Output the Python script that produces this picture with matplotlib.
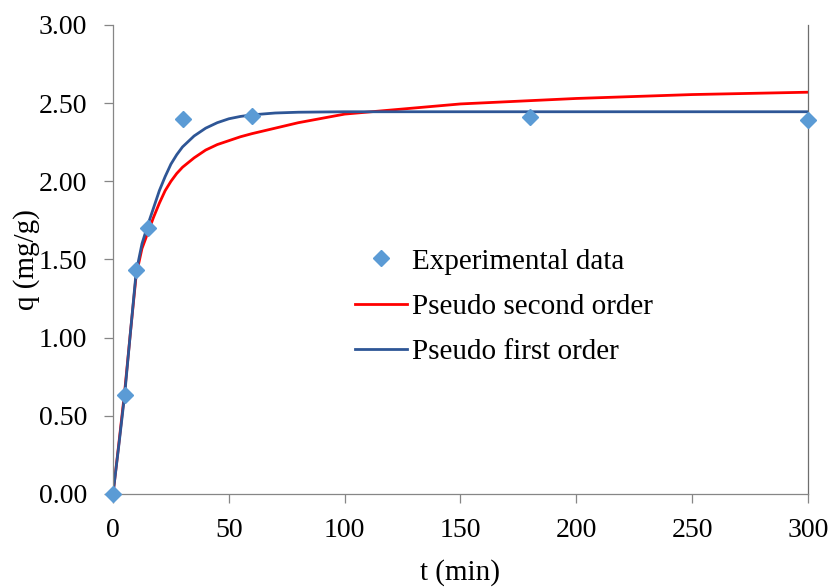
import matplotlib
matplotlib.use('Agg')
import matplotlib.pyplot as plt
from matplotlib.ticker import FormatStrFormatter

plt.rcParams['font.family'] = ['Liberation Serif', 'DejaVu Serif']

# experimental points
t_exp = [0, 5, 10, 15, 30, 60, 180, 300]
q_exp = [0, 0.63, 1.43, 1.70, 2.40, 2.42, 2.41, 2.39]

# model curves, values
t_fit = [0, 2.5, 5, 7.5, 10, 12.5, 15, 17.5, 20, 22.5, 25, 27.5, 30, 35, 40,
         45, 50, 55, 60, 70, 80, 100, 150, 200, 250, 300]
q_second = [0, 0.32, 0.65, 1.03, 1.40, 1.57, 1.67, 1.77, 1.86, 1.94, 2.00,
            2.05, 2.09, 2.15, 2.20, 2.235, 2.26, 2.285, 2.305, 2.34, 2.375,
            2.43, 2.495, 2.53, 2.555, 2.57]
q_first = [0, 0.31, 0.63, 1.03, 1.42, 1.60, 1.72, 1.83, 1.94, 2.03, 2.11,
           2.17, 2.22, 2.29, 2.34, 2.375, 2.40, 2.415, 2.425, 2.437, 2.442,
           2.445, 2.445, 2.445, 2.445, 2.445]

x_ticks = [0, 50, 100, 150, 200, 250, 300]
y_ticks = [0, 0.5, 1.0, 1.5, 2.0, 2.5, 3.0]

fig = plt.figure(figsize=(8.34, 5.88), dpi=100)
ax = fig.add_axes([0.1355, 0.1599, 0.8333, 0.7976])

ax.plot(t_exp, q_exp, linestyle='none', marker='D', markersize=8.5,
        color='#5B9BD5', label='Experimental data', zorder=5, clip_on=False)
ax.plot(t_fit, q_second, color='#FF0000', lw=2, label='Pseudo second order')
ax.plot(t_fit, q_first, color='#2E5696', lw=2, label='Pseudo first order')

ax.set_xlim(0, 300)
ax.set_ylim(0, 3.0)
ax.set_xticks(x_ticks)
ax.set_yticks(y_ticks)
ax.yaxis.set_major_formatter(FormatStrFormatter('%.2f'))

ax.spines['top'].set_visible(False)
for side in ['left', 'bottom']:
    ax.spines[side].set_color('#868686')
    ax.spines[side].set_linewidth(0.9)
ax.spines['right'].set_color('#6E6E6E')
ax.spines['right'].set_linewidth(0.9)

ax.tick_params(axis='both', direction='out', length=6.5, width=0.9,
               color='#868686', labelsize=20)
ax.tick_params(axis='y', pad=12)
ax.tick_params(axis='x', pad=10.5)

ax.set_xlabel('t (min)', fontsize=21, labelpad=12)
ax.set_ylabel('q (mg/g)', fontsize=21, labelpad=-1)

ax.legend(loc='upper left', bbox_to_anchor=(0.348, 0.524), frameon=False,
          fontsize=21, handlelength=1.8, handletextpad=0.17,
          labelspacing=0.64, borderpad=0, borderaxespad=0)

fig.savefig('out.png', dpi=100)
